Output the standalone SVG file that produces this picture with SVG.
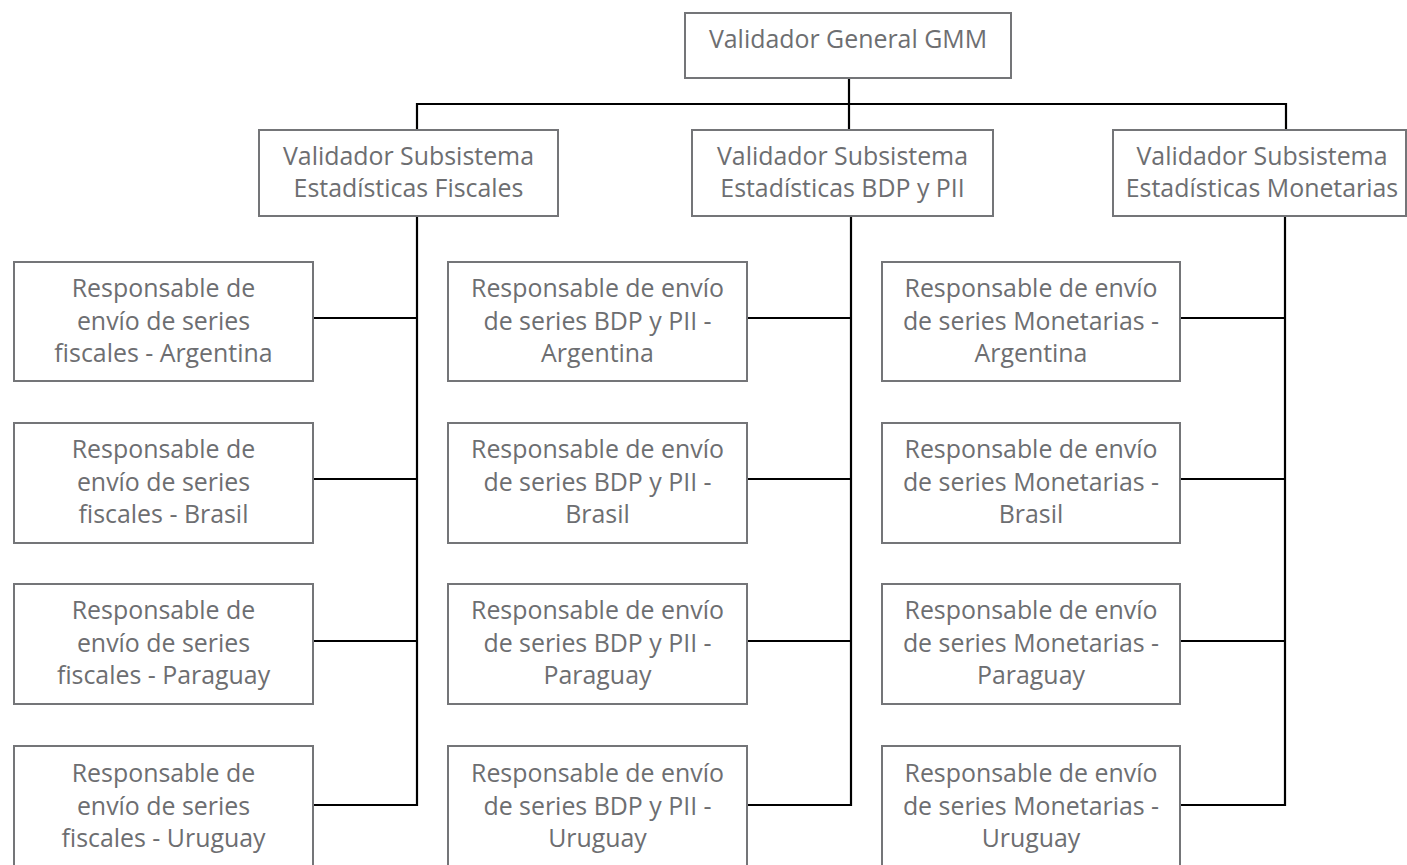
<svg xmlns="http://www.w3.org/2000/svg" width="1407" height="865" viewBox="0 0 1407 865">
<style>
.box{fill:#ffffff;stroke:#747578;stroke-width:2}
.t{font-family:"Open Sans","Liberation Sans",sans-serif;font-size:24.9px;fill:#6d6e71;text-anchor:middle}
.c{fill:none;stroke:#000000;stroke-width:2.2}
</style>
<rect width="1407" height="865" fill="#ffffff"/>
<g id="connectors">
<path class="c" d="M849 78V130"/>
<path class="c" d="M417 130V104H1286V130"/>
<path class="c" d="M417 217V805H313M313 318H417M313 479H417M313 641H417"/>
<path class="c" d="M851 217V805H747M747 318H851M747 479H851M747 641H851"/>
<path class="c" d="M1285 217V805H1180M1180 318H1285M1180 479H1285M1180 641H1285"/>
</g>
<g id="n-gmm"><rect class="box" x="685" y="13" width="326" height="65"/><text class="t" x="848" y="48">Validador General GMM</text></g>
<g id="n-fiscal"><rect class="box" x="259" y="130" width="299" height="86"/><text class="t" x="408.5" y="165">Validador Subsistema</text><text class="t" x="408.5" y="197">Estadísticas Fiscales</text></g>
<g id="n-bdp"><rect class="box" x="692" y="130" width="301" height="86"/><text class="t" x="842.5" y="165">Validador Subsistema</text><text class="t" x="842.5" y="197">Estadísticas BDP y PII</text></g>
<g id="n-monet"><rect class="box" x="1113" y="130" width="293" height="86"/><text class="t" x="1262" y="165">Validador Subsistema</text><text class="t" x="1262" y="197">Estadísticas Monetarias</text></g>

<g id="n-f-ar"><rect class="box" x="14" y="262" width="299" height="119"/><text class="t" x="163.5" y="297">Responsable de</text><text class="t" x="163.5" y="329.5">envío de series</text><text class="t" x="163.5" y="362">fiscales - Argentina</text></g>
<g id="n-f-br"><rect class="box" x="14" y="423" width="299" height="120"/><text class="t" x="163.5" y="458">Responsable de</text><text class="t" x="163.5" y="490.5">envío de series</text><text class="t" x="163.5" y="523">fiscales - Brasil</text></g>
<g id="n-f-py"><rect class="box" x="14" y="584" width="299" height="120"/><text class="t" x="163.5" y="619">Responsable de</text><text class="t" x="163.5" y="651.5">envío de series</text><text class="t" x="163.5" y="684">fiscales - Paraguay</text></g>
<g id="n-f-uy"><rect class="box" x="14" y="746" width="299" height="130"/><text class="t" x="163.5" y="782">Responsable de</text><text class="t" x="163.5" y="814.5">envío de series</text><text class="t" x="163.5" y="847">fiscales - Uruguay</text></g>

<g id="n-b-ar"><rect class="box" x="448" y="262" width="299" height="119"/><text class="t" x="597.5" y="297">Responsable de envío</text><text class="t" x="597.5" y="329.5">de series BDP y PII -</text><text class="t" x="597.5" y="362">Argentina</text></g>
<g id="n-b-br"><rect class="box" x="448" y="423" width="299" height="120"/><text class="t" x="597.5" y="458">Responsable de envío</text><text class="t" x="597.5" y="490.5">de series BDP y PII -</text><text class="t" x="597.5" y="523">Brasil</text></g>
<g id="n-b-py"><rect class="box" x="448" y="584" width="299" height="120"/><text class="t" x="597.5" y="619">Responsable de envío</text><text class="t" x="597.5" y="651.5">de series BDP y PII -</text><text class="t" x="597.5" y="684">Paraguay</text></g>
<g id="n-b-uy"><rect class="box" x="448" y="746" width="299" height="130"/><text class="t" x="597.5" y="782">Responsable de envío</text><text class="t" x="597.5" y="814.5">de series BDP y PII -</text><text class="t" x="597.5" y="847">Uruguay</text></g>

<g id="n-m-ar"><rect class="box" x="882" y="262" width="298" height="119"/><text class="t" x="1031" y="297">Responsable de envío</text><text class="t" x="1031" y="329.5">de series Monetarias -</text><text class="t" x="1031" y="362">Argentina</text></g>
<g id="n-m-br"><rect class="box" x="882" y="423" width="298" height="120"/><text class="t" x="1031" y="458">Responsable de envío</text><text class="t" x="1031" y="490.5">de series Monetarias -</text><text class="t" x="1031" y="523">Brasil</text></g>
<g id="n-m-py"><rect class="box" x="882" y="584" width="298" height="120"/><text class="t" x="1031" y="619">Responsable de envío</text><text class="t" x="1031" y="651.5">de series Monetarias -</text><text class="t" x="1031" y="684">Paraguay</text></g>
<g id="n-m-uy"><rect class="box" x="882" y="746" width="298" height="130"/><text class="t" x="1031" y="782">Responsable de envío</text><text class="t" x="1031" y="814.5">de series Monetarias -</text><text class="t" x="1031" y="847">Uruguay</text></g>
</svg>
